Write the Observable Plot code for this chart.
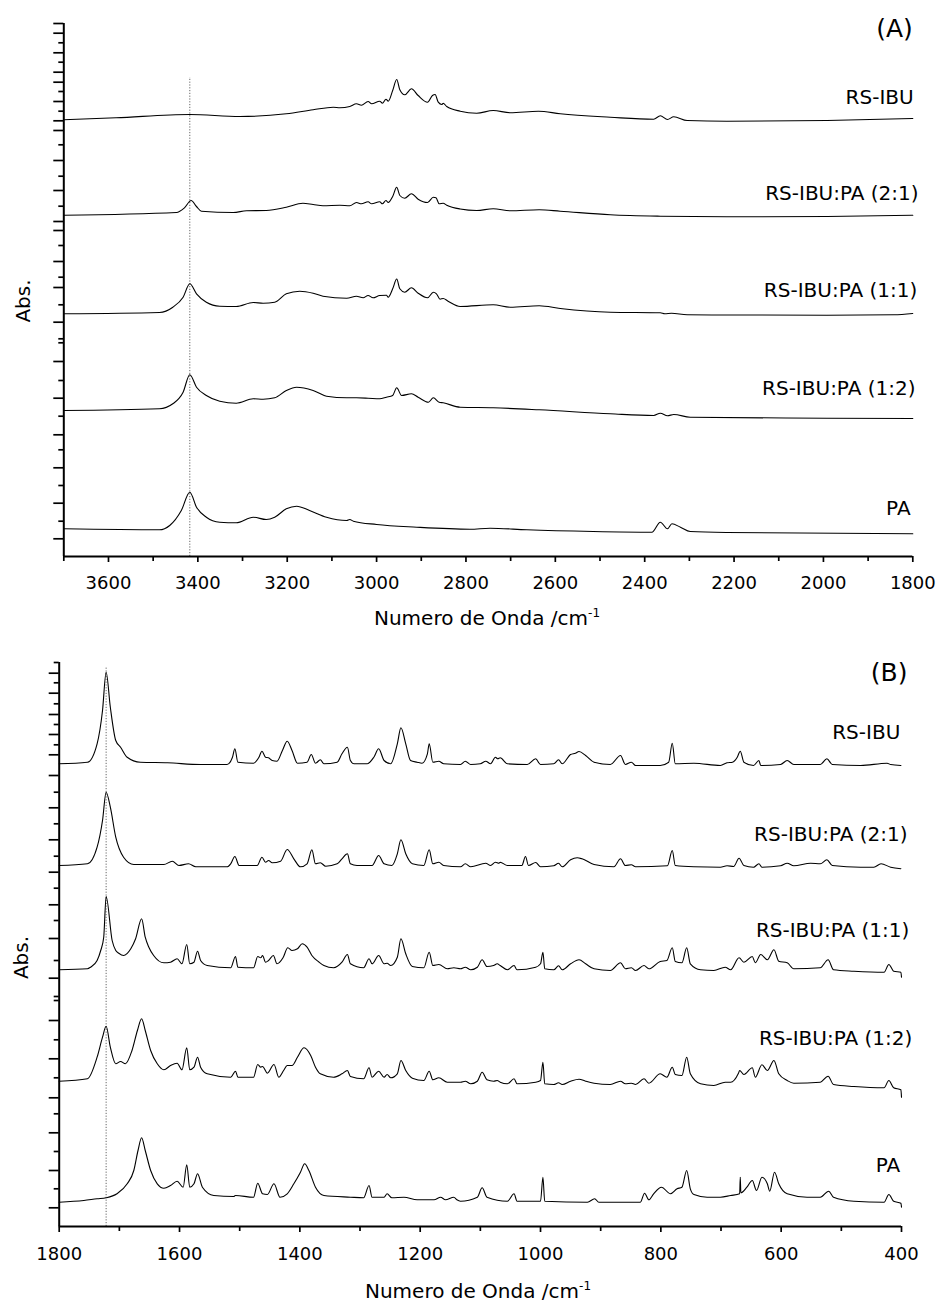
<!DOCTYPE html>
<html>
<head>
<meta charset="utf-8">
<script src="https://cdn.jsdelivr.net/npm/d3@7"></script>
<script src="https://cdn.jsdelivr.net/npm/@observablehq/plot@0.6"></script>
<style>
  body { margin: 0; background: #fff; }
  #chart svg { display: block; }
</style>
</head>
<body>
<div id="chart"></div>
<script>
// ---------- Panel A: 3700–1800 cm-1 (stacked spectra, offset absorbance) ----------
const namesA = ["RS-IBU", "RS-IBU:PA (2:1)", "RS-IBU:PA (1:1)", "RS-IBU:PA (1:2)", "PA"];

const a_rsibu = [[3700,43.67],[3583,43.87],[3418,44.2],[3306,44.0],[3202,44.27],[3142,44.67],[3097,44.93],[3082,44.87],[3060,45.0],[3045,45.27],[3034,45.13],[3019,45.5],[3011,45.27],[2993,45.53],[2987,45.33],[2979,45.73],[2974,45.53],[2964,46.6],[2955,47.7],[2948,46.67],[2937,46.17],[2922,46.77],[2907,46.1],[2886,45.43],[2875,46.1],[2869,46.2],[2862,45.43],[2854,45.2],[2851,45.33],[2843,45.0],[2813,44.53],[2776,44.33],[2739,44.6],[2701,44.37],[2638,44.53],[2589,44.27],[2477,43.93],[2380,43.73],[2365,44.07],[2349,43.7],[2335,43.97],[2305,43.6],[2216,43.53],[1992,43.6],[1800,43.8]];

const a_21 = [[3700,34.13],[3448,34.4],[3430,34.87],[3415,35.6],[3403,35.0],[3392,34.53],[3321,34.4],[3291,34.57],[3247,34.6],[3202,34.93],[3165,35.33],[3142,35.2],[3120,35.07],[3082,35.13],[3060,35.07],[3045,35.4],[3034,35.27],[3019,35.47],[3011,35.27],[2993,35.47],[2987,35.27],[2979,35.6],[2974,35.4],[2964,36.0],[2955,36.93],[2948,36.1],[2937,35.83],[2922,36.27],[2907,35.73],[2886,35.4],[2873,35.93],[2867,35.87],[2860,35.27],[2851,35.33],[2843,35.13],[2813,34.75],[2776,34.6],[2739,34.77],[2701,34.57],[2636,34.67],[2589,34.53],[2477,34.17],[2365,34.03],[2216,33.97],[1992,34.0],[1800,34.13]];

const a_11 = [[3700,24.27],[3486,24.4],[3456,24.93],[3433,25.93],[3418,27.27],[3403,26.27],[3381,25.43],[3351,25.03],[3314,25.0],[3276,25.4],[3254,25.33],[3228,25.43],[3202,26.27],[3172,26.53],[3142,26.33],[3120,26.03],[3067,25.83],[3045,26.03],[3030,25.87],[3019,26.1],[3008,25.87],[2993,26.1],[2978,26.13],[2974,25.93],[2964,26.77],[2955,27.75],[2948,26.77],[2937,26.43],[2922,26.87],[2907,26.33],[2886,25.87],[2873,26.43],[2866,26.27],[2858,25.73],[2851,25.8],[2840,25.53],[2813,25.0],[2739,25.17],[2701,24.93],[2636,25.07],[2589,24.8],[2477,24.43],[2365,24.37],[2355,24.27],[2340,24.33],[2305,24.17],[1992,24.13],[1842,24.17],[1800,24.3]];

const a_12 = [[3700,14.6],[3486,14.77],[3456,15.27],[3433,16.43],[3418,18.17],[3403,16.93],[3381,16.1],[3351,15.53],[3314,15.33],[3276,15.77],[3254,15.73],[3228,15.87],[3202,16.6],[3179,16.93],[3142,16.6],[3112,16.03],[3067,15.87],[3045,15.87],[3019,15.83],[2993,15.77],[2978,15.93],[2964,16.1],[2955,16.87],[2944,16.1],[2922,16.27],[2907,15.93],[2884,15.43],[2873,15.87],[2860,15.43],[2851,15.37],[2813,14.93],[2739,14.87],[2636,14.67],[2477,14.27],[2380,14.1],[2365,14.33],[2349,14.07],[2335,14.2],[2298,13.93],[1992,13.83],[1800,13.8]];

const a_pa = [[3700,2.77],[3486,2.67],[3463,3.1],[3437,4.6],[3418,6.43],[3403,4.93],[3381,3.93],[3351,3.43],[3314,3.37],[3276,3.93],[3247,3.7],[3228,3.93],[3202,4.77],[3179,5.03],[3150,4.6],[3112,3.93],[3067,3.6],[3060,3.7],[3052,3.53],[3000,3.2],[2910,2.93],[2791,2.73],[2746,2.83],[2664,2.67],[2515,2.5],[2384,2.43],[2365,3.43],[2349,2.77],[2339,3.27],[2320,2.93],[2298,2.5],[2216,2.4],[1800,2.27]];

const labelWnA = [1798, 1787, 1790, 1794, 1805];
const labelAbsA = [45.9, 36.3, 26.6, 16.8, 4.8];
const xMajorA = [3600, 3400, 3200, 3000, 2800, 2600, 2400, 2200, 2000, 1800];
const xMinorA = [3700, 3500, 3300, 3100, 2900, 2700, 2500, 2300, 2100, 1900];
const yMajorA = [53.3, 52.33, 50.37, 48.43, 47.43, 45.5, 43.57, 42.6, 39.6, 36.6, 33.5, 32.6, 29.5, 26.9, 23.43, 19.5, 15.83, 12.17, 8.87, 5.33, 1.77];
const yMinorA = [51.37, 49.43, 46.5, 44.53, 41.17, 38.03, 35.03, 31.1, 27.93, 25.17, 21.77, 21.37, 17.6, 14.03, 10.67, 7.1, 3.53];

// ---------- Panel B: 1800–400 cm-1 ----------
const namesB = namesA;

const b_rsibu = [[1800,46.27],[1753,46.43],[1737,48.27],[1728,51.6],[1722,55.43],[1715,51.93],[1706,48.6],[1698,47.93],[1687,46.93],[1665,46.43],[1620,46.37],[1565,46.2],[1521,46.2],[1512,46.93],[1508,47.77],[1503,46.43],[1477,46.33],[1468,46.93],[1463,47.53],[1457,46.93],[1452,46.87],[1446,46.6],[1438,46.53],[1429,47.6],[1421,48.53],[1413,47.6],[1404,46.33],[1388,46.43],[1381,47.2],[1374,46.33],[1366,46.67],[1360,46.27],[1338,46.43],[1330,47.27],[1321,47.93],[1316,46.6],[1310,46.27],[1288,46.27],[1277,46.93],[1269,47.77],[1260,46.6],[1249,46.27],[1238,48.27],[1232,49.87],[1224,48.27],[1216,46.6],[1205,46.43],[1197,46.33],[1188,47.27],[1185,48.27],[1179,46.43],[1169,46.53],[1161,46.27],[1133,46.2],[1125,46.53],[1116,46.2],[1100,46.27],[1091,46.53],[1083,46.27],[1075,46.93],[1071,46.77],[1067,46.87],[1055,46.27],[1022,46.2],[1008,46.77],[1000,46.2],[978,46.27],[970,46.67],[964,46.27],[950,47.2],[942,47.33],[936,47.5],[925,47.1],[911,46.43],[884,46.2],[867,47.1],[859,46.2],[849,46.43],[842,46.1],[801,46.1],[787,46.43],[781,48.33],[776,46.27],[745,46.33],[701,46.1],[690,46.37],[681,46.43],[673,46.93],[668,47.53],[662,46.43],[646,46.1],[637,46.6],[634,46.1],[601,46.2],[590,46.6],[579,46.2],[535,46.2],[524,46.77],[515,46.2],[468,46.1],[424,46.33],[418,46.2],[401,46.1]];

const b_21 = [[1800,36.1],[1753,36.27],[1737,37.93],[1728,40.6],[1722,43.43],[1715,41.93],[1706,38.93],[1693,36.93],[1676,36.2],[1626,36.2],[1612,36.53],[1601,36.1],[1585,36.27],[1573,35.97],[1521,35.97],[1515,36.27],[1508,37.0],[1501,36.1],[1471,36.1],[1463,36.93],[1457,36.43],[1452,36.6],[1446,36.37],[1432,36.53],[1421,37.7],[1410,36.77],[1399,35.97],[1388,36.27],[1380,37.67],[1374,36.27],[1366,36.37],[1357,36.03],[1338,36.27],[1330,36.77],[1321,37.27],[1316,36.27],[1305,36.1],[1280,36.1],[1269,37.1],[1260,36.27],[1247,36.1],[1238,37.27],[1232,38.67],[1224,37.27],[1213,36.27],[1194,36.1],[1185,37.67],[1179,36.27],[1169,36.43],[1161,36.1],[1133,35.97],[1125,36.27],[1116,35.97],[1091,36.33],[1083,36.1],[1075,36.43],[1069,36.33],[1067,36.43],[1055,36.1],[1031,36.1],[1025,37.0],[1020,36.1],[1008,36.4],[1000,35.97],[978,36.07],[970,36.33],[964,35.97],[950,36.67],[939,36.87],[931,36.77],[911,36.2],[878,35.97],[867,36.77],[859,36.1],[849,36.17],[842,35.97],[789,36.07],[781,37.6],[776,36.1],[745,35.97],[701,35.93],[690,36.07],[679,36.0],[670,36.83],[662,36.1],[646,35.93],[637,36.27],[632,35.93],[601,36.07],[590,36.33],[579,36.07],[551,36.33],[535,36.27],[524,36.67],[515,36.1],[468,35.93],[446,35.93],[434,36.27],[418,35.93],[401,35.77]];

const b_11 = [[1800,25.67],[1753,25.77],[1748,25.93],[1737,26.6],[1731,27.6],[1726,28.93],[1722,33.0],[1712,28.6],[1706,27.6],[1701,27.33],[1693,27.1],[1681,27.77],[1673,28.77],[1663,30.77],[1657,28.93],[1651,27.93],[1643,27.1],[1626,26.37],[1615,26.43],[1604,26.77],[1596,26.27],[1588,28.2],[1583,26.27],[1576,26.43],[1570,27.53],[1565,26.6],[1554,26.1],[1515,25.87],[1507,27.0],[1503,25.93],[1477,25.87],[1470,27.0],[1465,26.87],[1462,27.1],[1457,26.43],[1452,26.6],[1444,27.1],[1438,26.27],[1428,26.87],[1420,27.87],[1413,27.6],[1404,27.77],[1396,28.27],[1388,27.93],[1380,27.1],[1368,26.43],[1360,26.1],[1344,25.87],[1330,26.43],[1321,27.2],[1316,26.27],[1294,25.87],[1285,26.77],[1280,26.27],[1269,27.1],[1260,26.27],[1255,26.33],[1249,26.1],[1238,26.93],[1232,28.77],[1224,27.27],[1213,26.0],[1194,25.87],[1185,27.43],[1179,26.1],[1169,26.2],[1155,25.77],[1144,25.87],[1133,25.77],[1125,25.93],[1116,25.67],[1105,25.93],[1097,26.67],[1089,26.0],[1078,26.1],[1072,26.27],[1067,26.1],[1055,25.67],[1044,26.1],[1039,25.67],[1008,25.93],[1000,26.27],[996,27.43],[993,25.77],[978,25.67],[970,26.07],[964,25.67],[950,26.27],[936,26.67],[925,26.27],[911,25.77],[884,25.6],[867,26.37],[859,25.77],[849,25.87],[842,25.6],[828,26.1],[820,25.77],[801,26.5],[790,26.6],[781,27.87],[776,26.5],[765,26.37],[757,27.87],[751,26.27],[734,25.67],[712,25.6],[693,25.93],[684,25.67],[670,26.87],[662,26.43],[648,27.0],[643,26.37],[634,27.2],[623,26.67],[612,27.67],[604,26.53],[590,26.37],[579,25.77],[535,25.87],[522,26.67],[513,25.67],[479,25.53],[429,25.43],[421,26.2],[413,25.53],[401,25.43],[400,24.93]];

const b_12 = [[1800,14.53],[1753,14.77],[1737,16.93],[1728,18.93],[1722,20.03],[1715,17.93],[1706,16.27],[1698,16.5],[1690,16.27],[1679,17.6],[1670,19.6],[1663,20.77],[1657,19.6],[1648,17.6],[1637,16.27],[1626,15.67],[1615,16.1],[1604,16.33],[1596,15.67],[1588,17.87],[1583,15.67],[1576,15.93],[1570,16.93],[1565,15.93],[1554,15.27],[1515,14.93],[1507,15.53],[1503,14.93],[1477,14.93],[1470,16.2],[1465,15.93],[1462,16.0],[1454,15.33],[1443,16.2],[1435,14.93],[1427,15.6],[1421,16.1],[1413,16.1],[1404,16.93],[1393,17.87],[1382,17.1],[1374,15.93],[1366,15.27],[1344,14.93],[1330,15.27],[1321,15.6],[1316,15.0],[1294,14.77],[1285,15.87],[1280,14.93],[1269,15.53],[1260,14.93],[1255,15.2],[1249,14.87],[1238,15.27],[1232,16.6],[1224,15.6],[1213,14.83],[1194,14.6],[1185,15.53],[1179,14.67],[1169,14.87],[1155,14.43],[1133,14.43],[1125,14.53],[1116,14.27],[1105,14.53],[1097,15.43],[1089,14.67],[1078,14.53],[1072,14.6],[1067,14.43],[1055,14.27],[1044,14.77],[1039,14.27],[1008,14.43],[1000,14.6],[996,16.43],[993,14.27],[978,14.2],[970,14.37],[964,14.2],[950,14.53],[936,14.73],[925,14.53],[911,14.33],[884,14.2],[867,14.53],[859,14.27],[849,14.33],[842,14.2],[828,14.77],[820,14.33],[801,15.27],[790,14.93],[781,15.93],[776,15.2],[765,15.1],[757,16.93],[751,15.27],[734,14.27],[712,14.1],[693,14.43],[684,14.43],[671,15.33],[669,15.6],[662,15.2],[648,15.87],[643,14.93],[632,16.17],[623,15.6],[612,16.6],[604,15.27],[590,14.6],[579,14.33],[535,14.43],[522,15.03],[513,14.2],[479,14.0],[429,13.87],[421,14.6],[413,13.87],[401,13.67],[400,12.93]];

const b_pa = [[1800,2.43],[1759,2.6],[1737,2.77],[1722,2.87],[1704,3.27],[1687,4.27],[1676,5.6],[1669,7.6],[1663,8.87],[1657,7.6],[1648,5.6],[1637,4.27],[1626,3.83],[1615,4.1],[1604,4.53],[1594,3.93],[1588,6.17],[1583,3.93],[1576,4.27],[1570,5.27],[1562,3.93],[1543,3.1],[1510,3.0],[1507,3.1],[1477,2.93],[1470,4.33],[1462,3.27],[1454,3.2],[1443,4.27],[1433,2.93],[1421,3.27],[1410,4.27],[1399,5.43],[1392,6.27],[1385,5.6],[1374,3.93],[1360,3.1],[1316,2.93],[1294,2.87],[1285,4.1],[1280,2.93],[1260,2.93],[1255,3.27],[1247,2.87],[1227,2.93],[1205,2.67],[1177,2.67],[1166,2.93],[1158,2.67],[1144,2.93],[1139,2.67],[1133,2.53],[1105,2.93],[1097,3.87],[1089,2.93],[1055,2.53],[1044,3.27],[1039,2.53],[1000,2.53],[996,4.93],[993,2.53],[922,2.43],[910,2.77],[903,2.43],[834,2.43],[827,3.33],[820,2.67],[812,3.27],[799,3.93],[784,3.27],[773,3.77],[765,3.93],[757,5.6],[751,3.77],[745,3.2],[723,2.93],[701,2.93],[684,3.1],[669,3.27],[668,4.93],[667,3.37],[657,3.93],[648,4.6],[641,3.6],[632,4.93],[623,4.27],[619,3.53],[611,5.43],[604,4.27],[590,3.27],[557,2.93],[535,2.93],[521,3.53],[513,2.93],[479,2.53],[429,2.43],[421,3.2],[413,2.53],[401,2.33],[400,1.93]];

const labelWnB = [402, 390, 387, 382, 402];
const labelAbsB = [49.4, 39.2, 29.6, 18.8, 6.1];
const xMajorB = [1800, 1600, 1400, 1200, 1000, 800, 600, 400];
const xMinorB = [1700, 1500, 1300, 1100, 900, 700, 500];
const yMajorB = [55.33, 53.33, 51.2, 49.2, 47.17, 45.1, 41.87, 38.67, 35.43, 32.17, 28.8, 24.83, 20.6, 16.77, 12.87, 9.37, 5.6, 1.87];
const yMinorB = [56.4, 54.37, 52.27, 50.2, 48.17, 43.43, 40.27, 37.03, 33.83, 30.6, 26.6, 23.0, 22.6, 18.67, 14.87, 11.27, 7.5, 3.77];

const FONT = "DejaVu Sans";

function spectrumPanel(cfg) {
  const rows = cfg.series.flatMap((pts, i) => pts.map(([wn, a]) => ({name: cfg.names[i], wn, a})));
  const labels = cfg.names.map((t, i) => ({t, wn: cfg.labelWn[i], a: cfg.labelAbs[i]}));
  const svg = Plot.plot({
    width: 937,
    height: cfg.height,
    marginTop: cfg.marginTop,
    marginBottom: cfg.marginBottom,
    marginLeft: cfg.marginLeft,
    marginRight: cfg.marginRight,
    style: {background: "#fff", color: "#000", fontFamily: FONT, fontSize: "18px", overflow: "visible"},
    x: {domain: cfg.xDomain, label: null},
    y: {domain: [0, cfg.yMax], label: null},
    marks: [
      Plot.ruleX([cfg.marker], {y1: 0, y2: cfg.markerTop, stroke: "#555", strokeWidth: 0.9, strokeDasharray: "1.2,1.6"}),
      Plot.line(rows, {x: "wn", y: "a", z: "name", stroke: "#000", strokeWidth: 1.1, curve: "monotone-x"}),
      Plot.text(labels, {x: "wn", y: "a", text: "t", textAnchor: "end", fontSize: 20, fill: "#000"}),
      Plot.text([cfg.tag], {x: cfg.tagWn, y: cfg.tagAbs, textAnchor: "end", fontSize: 25, fill: "#000"}),
      Plot.axisY(cfg.yMajor, {anchor: "left", tickSize: 10, tickFormat: () => "", strokeWidth: 1.7, label: null}),
      Plot.axisY(cfg.yMinor, {anchor: "left", tickSize: 5, tickFormat: () => "", strokeWidth: 1.7, label: null}),
      Plot.axisX(cfg.xMajor, {anchor: "bottom", tickSize: 6, tickPadding: cfg.tickPadding, tickFormat: d => String(d), strokeWidth: 1.7, fontSize: 18, fill: "#000", label: null}),
      Plot.axisX(cfg.xMinor, {anchor: "bottom", tickSize: 5, tickFormat: () => "", strokeWidth: 1.7, label: null}),
      Plot.ruleX([cfg.xDomain[0]], {stroke: "#000", strokeWidth: 2}),
      Plot.ruleY([0], {stroke: "#000", strokeWidth: 2})
    ]
  });
  const s = d3.select(svg);
  const title = s.append("text")
    .attr("x", cfg.titleX).attr("y", cfg.titleY)
    .attr("text-anchor", "middle").attr("font-size", 20).attr("fill", "#000");
  title.append("tspan").text("Numero de Onda /cm");
  title.append("tspan").attr("dy", -8).attr("font-size", 12).text("-1");
  s.append("text")
    .attr("transform", `translate(${cfg.absX},${cfg.absY}) rotate(-90)`)
    .attr("text-anchor", "middle").attr("dy", "0.36em")
    .attr("font-size", 20).attr("fill", "#000")
    .text("Abs.");
  return svg;
}

const chart = document.getElementById("chart");

chart.append(spectrumPanel({
  names: namesA,
  series: [a_rsibu, a_21, a_11, a_12, a_pa],
  labelWn: labelWnA, labelAbs: labelAbsA,
  tag: "(A)", tagWn: 1800, tagAbs: 52.8,
  height: 640, marginTop: 23, marginBottom: 84, marginLeft: 63.3, marginRight: 24.7,
  xDomain: [3700, 1800], yMax: 53.3,
  marker: 3418, markerTop: 47.9,
  xMajor: xMajorA, xMinor: xMinorA, yMajor: yMajorA, yMinor: yMinorA,
  tickPadding: 13.5,
  titleX: 487, titleY: 625, absX: 22.5, absY: 301
}));

chart.append(spectrumPanel({
  names: namesB,
  series: [b_rsibu, b_21, b_11, b_12, b_pa],
  labelWn: labelWnB, labelAbs: labelAbsB,
  tag: "(B)", tagWn: 390, tagAbs: 55.4,
  height: 661, marginTop: 22, marginBottom: 75, marginLeft: 58.7, marginRight: 36,
  xDomain: [1800, 400], yMax: 56.4,
  marker: 1722, markerTop: 55.9,
  xMajor: xMajorB, xMinor: xMinorB, yMajor: yMajorB, yMinor: yMinorB,
  tickPadding: 14.5,
  titleX: 478, titleY: 658, absX: 21, absY: 317.5
}));
</script>
</body>
</html>
